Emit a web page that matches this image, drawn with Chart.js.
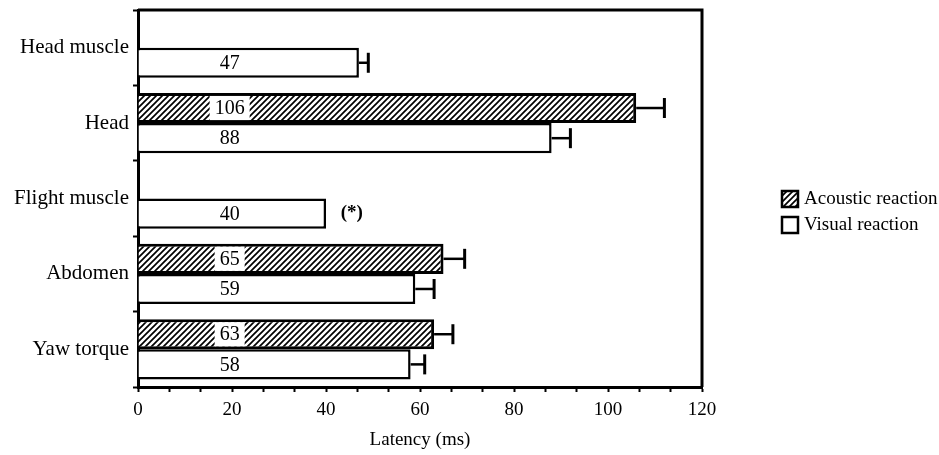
<!DOCTYPE html>
<html>
<head>
<meta charset="utf-8">
<script src="https://cdn.jsdelivr.net/npm/chart.js@4"></script>
<style>
  html, body { margin: 0; padding: 0; background: #fff; }
</style>
</head>
<body>
<canvas id="c" width="939" height="455"></canvas>
<script>
// データ
var categories = ['Head muscle', 'Head', 'Flight muscle', 'Abdomen', 'Yaw torque'];
var seriesNames = ['Acoustic reaction', 'Visual reaction'];
var acoustic = [null, 106, null, 65, 63];
var visual = [47, 88, 40, 59, 58];
var acousticErr = [null, 6, null, 4.5, 4];
var visualErr = [2, 4, null, 4, 3];
var notes = [null, null, '(*)', null, null];
var xTicks = [0, 20, 40, 60, 80, 100, 120];

var FONT = '"Liberation Serif", "DejaVu Serif", serif';
var canvas = document.getElementById('c');
var ctx = canvas.getContext('2d');

// 斜線パターン
function makeHatch() {
  var p = document.createElement('canvas');
  p.width = 6; p.height = 6;
  var g = p.getContext('2d');
  g.fillStyle = '#fff';
  g.fillRect(0, 0, 6, 6);
  g.strokeStyle = '#000';
  g.lineWidth = 1.7;
  g.beginPath();
  g.moveTo(-1, 7); g.lineTo(7, -1);
  g.moveTo(-1, 1); g.lineTo(1, -1);
  g.moveTo(5, 7); g.lineTo(7, 5);
  g.stroke();
  return ctx.createPattern(p, 'repeat');
}
var hatch = makeHatch();

// 値ラベル・エラーバー・注記
var barExtras = {
  id: 'barExtras',
  afterDatasetsDraw: function(chart) {
    var c = chart.ctx;
    var xs = chart.scales.x;
    var errs = [acousticErr, visualErr];
    c.save();
    chart.data.datasets.forEach(function(ds, di) {
      var meta = chart.getDatasetMeta(di);
      meta.data.forEach(function(bar, i) {
        var v = ds.data[i];
        if (v === null || v === undefined) return;
        var p = bar.getProps(['x', 'y', 'base', 'height'], true);
        var err = errs[di][i];
        if (err !== null && err !== undefined) {
          var x1 = xs.getPixelForValue(v + err);
          c.strokeStyle = '#000';
          c.lineWidth = 2.5;
          c.beginPath();
          c.moveTo(p.x, p.y);
          c.lineTo(x1, p.y);
          c.stroke();
          c.lineWidth = 3;
          c.beginPath();
          c.moveTo(x1, p.y - 10);
          c.lineTo(x1, p.y + 10);
          c.stroke();
        }
        var tx = xs.getPixelForValue(19.5);
        var text = String(v);
        c.font = '20px ' + FONT;
        var w = c.measureText(text).width;
        if (di === 0) {
          c.fillStyle = '#fff';
          c.fillRect(tx - w / 2 - 5, p.y - p.height / 2 + 3, w + 10, p.height - 6);
        }
        c.fillStyle = '#000';
        c.textAlign = 'center';
        c.textBaseline = 'middle';
        c.fillText(text, tx, p.y + 1);
        if (di === 1 && notes[i]) {
          c.font = 'bold 19px ' + FONT;
          c.fillText(notes[i], xs.getPixelForValue(v + 5.5), p.y);
        }
      });
    });
    c.restore();
  },
  afterDraw: function(chart) {
    var c = chart.ctx;
    var a = chart.chartArea;
    c.save();
    // 上・右の枠線
    c.strokeStyle = '#000';
    c.lineWidth = 3;
    c.beginPath();
    c.moveTo(a.left, a.top);
    c.lineTo(a.right, a.top);
    c.lineTo(a.right, a.bottom);
    c.stroke();
    // 凡例
    var fills = [hatch, '#fff'];
    c.font = '19px ' + FONT;
    c.textAlign = 'left';
    c.textBaseline = 'middle';
    seriesNames.forEach(function(name, k) {
      var bx = a.right + 80;
      var by = 191 + k * 26;
      c.fillStyle = fills[k];
      c.fillRect(bx, by, 16, 16);
      c.lineWidth = 2.5;
      c.strokeRect(bx, by, 16, 16);
      c.fillStyle = '#000';
      c.fillText(name, bx + 22, by + 8);
    });
    c.restore();
  }
};

var chart = new Chart(ctx, {
  type: 'bar',
  data: {
    labels: categories,
    datasets: [
      {
        label: seriesNames[0],
        data: acoustic,
        backgroundColor: hatch,
        borderColor: '#000',
        borderWidth: 3,
        categoryPercentage: 0.8,
        barPercentage: 1.0
      },
      {
        label: seriesNames[1],
        data: visual,
        backgroundColor: '#fff',
        borderColor: '#000',
        borderWidth: 2.5,
        categoryPercentage: 0.8,
        barPercentage: 1.0
      }
    ]
  },
  options: {
    indexAxis: 'y',
    responsive: false,
    devicePixelRatio: 1,
    animation: false,
    layout: { padding: { top: 10, right: 237, left: 0, bottom: 0 } },
    plugins: {
      legend: { display: false },
      tooltip: { enabled: false }
    },
    scales: {
      x: {
        min: 0,
        max: 120,
        afterFit: function(scale) {
          scale.height = 68;
          scale.paddingLeft = 0;
          scale.paddingRight = 0;
        },
        afterBuildTicks: function(scale) {
          var t = [];
          for (var k = 0; k < xTicks.length; k++) {
            t.push({ value: xTicks[k] });
            if (k < xTicks.length - 1) {
              var step = (xTicks[k + 1] - xTicks[k]) / 3;
              t.push({ value: xTicks[k] + step });
              t.push({ value: xTicks[k] + 2 * step });
            }
          }
          scale.ticks = t;
        },
        ticks: {
          autoSkip: false,
          maxRotation: 0,
          padding: 7,
          color: '#000',
          font: { family: FONT, size: 19 },
          callback: function(value) {
            return xTicks.indexOf(value) >= 0 ? String(value) : '';
          }
        },
        grid: {
          drawOnChartArea: false,
          color: '#000',
          tickLength: 5,
          tickWidth: 2
        },
        border: { display: true, color: '#000', width: 3 },
        title: {
          display: true,
          text: 'Latency (ms)',
          color: '#000',
          font: { family: FONT, size: 19 },
          padding: { top: 0, bottom: 4 }
        }
      },
      y: {
        afterFit: function(scale) {
          scale.width = 138;
          scale.paddingTop = 0;
          scale.paddingBottom = 0;
        },
        ticks: {
          padding: 4,
          color: '#000',
          font: { family: FONT, size: 21 }
        },
        grid: {
          offset: true,
          drawOnChartArea: false,
          color: '#000',
          tickLength: 5,
          tickWidth: 2
        },
        border: { display: true, color: '#000', width: 3 }
      }
    }
  },
  plugins: [barExtras]
});
</script>
</body>
</html>
